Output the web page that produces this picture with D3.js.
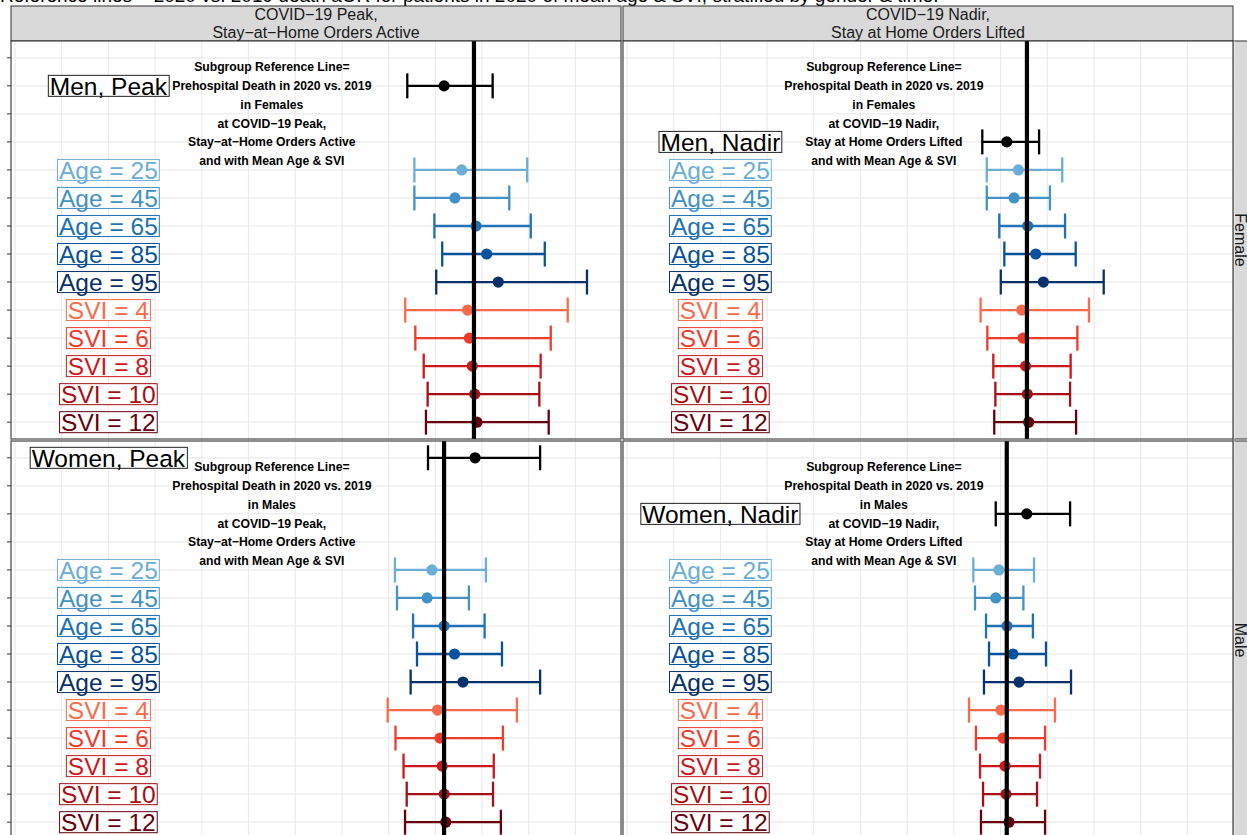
<!DOCTYPE html>
<html>
<head>
<meta charset="utf-8">
<script src="https://cdn.jsdelivr.net/npm/d3@7"></script>
<style>
  body { margin: 0; background: #fff; }
  svg { display: block; font-family: "Liberation Sans", Arial, Helvetica, sans-serif; }
</style>
</head>
<body>
<div id="container"></div>
<script>
// y categories (top to bottom), shared by all four panels
const rowCats = ["Women, Peak", "Men, Peak", "Women, Nadir", "Men, Nadir",
  "Age = 25", "Age = 45", "Age = 65", "Age = 85", "Age = 95",
  "SVI = 4", "SVI = 6", "SVI = 8", "SVI = 10", "SVI = 12"];

const subgroups = ["Age = 25", "Age = 45", "Age = 65", "Age = 85", "Age = 95",
  "SVI = 4", "SVI = 6", "SVI = 8", "SVI = 10", "SVI = 12"];
const subgroupColors = ["#6baed6", "#4292c6", "#2171b5", "#08519c", "#08306b",
  "#fb6a4a", "#ef3b2c", "#cb181d", "#a50f15", "#67000d"];

const timeStrips = [["COVID\u221219 Peak,", "Stay\u2212at\u2212Home Orders Active"],
                    ["COVID\u221219 Nadir,", "Stay at Home Orders Lifted"]];
const genderStrips = ["Female", "Male"];

// subgroup reference line (aOR) per [gender][time]
const refLines = [[2.457, 2.141], [2.297, 2.033]];

// black reference row per [gender][time]
const refRowLabels = [["Men, Peak", "Men, Nadir"], ["Women, Peak", "Women, Nadir"]];
const refRowEst = [[2.297, 2.033], [2.463, 2.140]];
const refRowLow = [[2.100, 1.902], [2.211, 1.974]];
const refRowHigh = [[2.557, 2.206], [2.811, 2.372]];

// subgroup estimates, lower and upper bounds
const femalePeakEst  = [2.391, 2.355, 2.468, 2.525, 2.587, 2.423, 2.432, 2.448, 2.461, 2.473];
const femalePeakLow  = [2.138, 2.138, 2.245, 2.287, 2.255, 2.089, 2.143, 2.188, 2.209, 2.200];
const femalePeakHigh = [2.742, 2.646, 2.761, 2.836, 3.062, 2.959, 2.868, 2.814, 2.807, 2.857];

const femaleNadirEst  = [2.095, 2.072, 2.145, 2.188, 2.229, 2.113, 2.120, 2.134, 2.143, 2.150];
const femaleNadirLow  = [1.926, 1.926, 1.993, 2.020, 2.001, 1.893, 1.929, 1.961, 1.972, 1.966];
const femaleNadirHigh = [2.330, 2.264, 2.345, 2.402, 2.552, 2.473, 2.411, 2.375, 2.372, 2.404];

const malePeakEst  = [2.232, 2.206, 2.297, 2.353, 2.398, 2.262, 2.275, 2.287, 2.298, 2.306];
const malePeakLow  = [2.034, 2.045, 2.131, 2.152, 2.118, 1.995, 2.037, 2.080, 2.097, 2.088];
const malePeakHigh = [2.521, 2.430, 2.514, 2.607, 2.811, 2.687, 2.612, 2.563, 2.559, 2.601];

const maleNadirEst  = [1.991, 1.974, 2.034, 2.066, 2.099, 2.002, 2.013, 2.024, 2.029, 2.045];
const maleNadirLow  = [1.854, 1.863, 1.922, 1.938, 1.911, 1.831, 1.868, 1.890, 1.906, 1.895];
const maleNadirHigh = [2.179, 2.122, 2.173, 2.243, 2.377, 2.291, 2.238, 2.211, 2.195, 2.238];

const annotationLines = [
  ["Subgroup Reference Line=", "Prehospital Death in 2020 vs. 2019", "in Females", "at COVID\u221219 Peak,", "Stay\u2212at\u2212Home Orders Active", "and with Mean Age & SVI"],
  ["Subgroup Reference Line=", "Prehospital Death in 2020 vs. 2019", "in Females", "at COVID\u221219 Nadir,", "Stay at Home Orders Lifted", "and with Mean Age & SVI"],
  ["Subgroup Reference Line=", "Prehospital Death in 2020 vs. 2019", "in Males", "at COVID\u221219 Peak,", "Stay\u2212at\u2212Home Orders Active", "and with Mean Age & SVI"],
  ["Subgroup Reference Line=", "Prehospital Death in 2020 vs. 2019", "in Males", "at COVID\u221219 Nadir,", "Stay at Home Orders Lifted", "and with Mean Age & SVI"]
];

const titleText = "Reference lines = 2020 vs. 2019 death aOR for patients in 2020 of mean age & SVI, stratified by gender & time.";

const panelData = [
  [[femalePeakEst, femalePeakLow, femalePeakHigh], [femaleNadirEst, femaleNadirLow, femaleNadirHigh]],
  [[malePeakEst, malePeakLow, malePeakHigh], [maleNadirEst, maleNadirLow, maleNadirHigh]]
];

const width = 1247, height = 835;
const panelX0 = [11, 623], panelW = 610;
const panelY0 = [41, 441], panelH = 398;
const stripTop = 6;

const svg = d3.select("#container").append("svg")
    .attr("width", width)
    .attr("height", height);

const x = d3.scaleLinear().domain([-0.0214, 3.2441]).range([0, panelW]);
const y = d3.scalePoint().domain(rowCats).range([0, panelH]).padding(0.6);
const gridX = d3.range(0, 3.26, 0.25);

// title (cut at the top of the picture)
svg.append("text")
    .attr("x", 0)
    .attr("y", 2)
    .style("font-size", "19px")
    .attr("fill", "#000")
    .text(titleText);

// column strips
timeStrips.forEach((lines, t) => {
    svg.append("rect")
        .attr("x", panelX0[t]).attr("y", stripTop)
        .attr("width", panelW).attr("height", panelY0[0] - stripTop)
        .attr("fill", "#d9d9d9").attr("stroke", "#333").attr("stroke-width", 1);
    lines.forEach((l, i) => {
        svg.append("text")
            .attr("x", panelX0[t] + panelW / 2)
            .attr("y", 14.5 + i * 18)
            .attr("dy", "0.35em")
            .attr("text-anchor", "middle")
            .attr("fill", "#1a1a1a")
            .style("font-size", "16px")
            .text(l);
    });
});

// row strips
genderStrips.forEach((g, r) => {
    svg.append("rect")
        .attr("x", panelX0[1] + panelW).attr("y", panelY0[r])
        .attr("width", 30).attr("height", panelH)
        .attr("fill", "#d9d9d9").attr("stroke", "#333").attr("stroke-width", 1);
    svg.append("text")
        .attr("transform", `translate(1241,${panelY0[r] + panelH / 2}) rotate(90)`)
        .attr("dy", "0.35em")
        .attr("text-anchor", "middle")
        .attr("fill", "#1a1a1a")
        .style("font-size", "16px")
        .text(g);
});

genderStrips.forEach((g, r) => {
    timeStrips.forEach((s, t) => {
        const p = svg.append("g")
            .attr("transform", `translate(${panelX0[t]},${panelY0[r]})`);

        p.append("rect")
            .attr("width", panelW).attr("height", panelH)
            .attr("fill", "#fff");

        // grid
        p.selectAll(".gx").data(gridX).enter().append("line")
            .attr("x1", d => x(d)).attr("x2", d => x(d))
            .attr("y1", 0).attr("y2", panelH)
            .attr("stroke", "#ebebeb").attr("stroke-width", 1.2);
        p.selectAll(".gy").data(rowCats).enter().append("line")
            .attr("x1", 0).attr("x2", panelW)
            .attr("y1", d => y(d)).attr("y2", d => y(d))
            .attr("stroke", "#ebebeb").attr("stroke-width", 1.2);

        // rows: reference row + subgroups
        const [est, low, high] = panelData[r][t];
        const rows = subgroups.map((name, i) => ({
            name, est: est[i], low: low[i], high: high[i], color: subgroupColors[i]
        }));
        rows.unshift({
            name: refRowLabels[r][t], est: refRowEst[r][t],
            low: refRowLow[r][t], high: refRowHigh[r][t], color: "#000"
        });

        const eb = p.selectAll(".eb").data(rows).enter().append("g")
            .attr("stroke", d => d.color)
            .attr("stroke-width", 2.3);
        eb.append("line")
            .attr("x1", d => x(d.low)).attr("x2", d => x(d.high))
            .attr("y1", d => y(d.name)).attr("y2", d => y(d.name));
        eb.append("line")
            .attr("x1", d => x(d.low)).attr("x2", d => x(d.low))
            .attr("y1", d => y(d.name) - 12.5).attr("y2", d => y(d.name) + 12.5);
        eb.append("line")
            .attr("x1", d => x(d.high)).attr("x2", d => x(d.high))
            .attr("y1", d => y(d.name) - 12.5).attr("y2", d => y(d.name) + 12.5);

        p.selectAll(".pt").data(rows).enter().append("circle")
            .attr("cx", d => x(d.est))
            .attr("cy", d => y(d.name))
            .attr("r", 5.6)
            .attr("fill", d => d.color);

        // subgroup reference line
        p.append("line")
            .attr("x1", x(refLines[r][t])).attr("x2", x(refLines[r][t]))
            .attr("y1", 0).attr("y2", panelH)
            .attr("stroke", "#000").attr("stroke-width", 4.2);

        // boxed labels
        rows.forEach(d => {
            const lg = p.append("g");
            const box = lg.append("rect");
            const txt = lg.append("text")
                .attr("x", x(0.5))
                .attr("y", y(d.name) + 8.8)
                .attr("text-anchor", "middle")
                .attr("fill", d.color)
                .style("font-size", "24.5px")
                .text(d.name);
            const bb = txt.node().getBBox();
            box.attr("x", bb.x - 1.5).attr("width", bb.width + 3)
                .attr("y", y(d.name) - 10.5).attr("height", 21)
                .attr("fill", "#fff")
                .attr("stroke", d.color === "#000" ? "#222" : d.color)
                .attr("stroke-width", 1);
        });

        // annotation block
        const lines = annotationLines[r * 2 + t];
        lines.forEach((l, i) => {
            p.append("text")
                .attr("x", x(1.375))
                .attr("y", y(rowCats[2]) + (i - 2.5) * 18.9)
                .attr("dy", "0.35em")
                .attr("text-anchor", "middle")
                .attr("fill", "#000")
                .style("font-size", "12.2px")
                .style("font-weight", "bold")
                .text(l);
        });

        // border
        p.append("rect")
            .attr("width", panelW).attr("height", panelH)
            .attr("fill", "none").attr("stroke", "#333").attr("stroke-width", 1.1);

        // left ticks
        if (t === 0) {
            p.selectAll(".tk").data(rowCats).enter().append("line")
                .attr("x1", -4).attr("x2", 0)
                .attr("y1", d => y(d)).attr("y2", d => y(d))
                .attr("stroke", "#333").attr("stroke-width", 1);
        }
    });
});
</script>
</body>
</html>
